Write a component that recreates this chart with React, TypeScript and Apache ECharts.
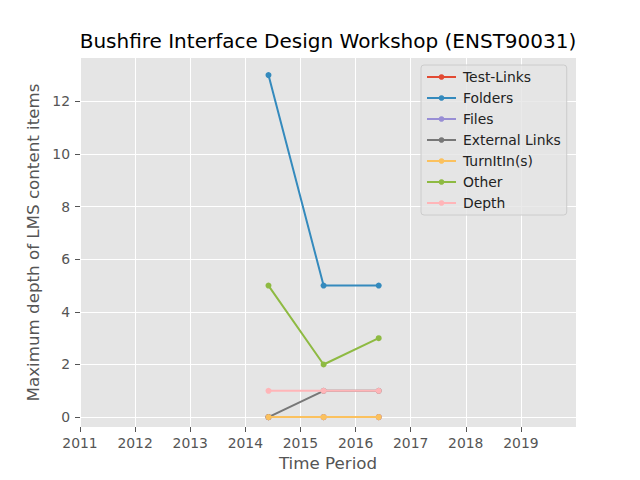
import React, { useEffect, useRef } from "react";
import * as echarts from "echarts";

const periods = [2014.42, 2015.42, 2016.42];
const seriesNames = ["Test-Links", "Folders", "Files", "External Links", "TurnItIn(s)", "Other", "Depth"];
const testLinks = [0, 0, 0];
const folders = [13, 5, 5];
const files = [0, 0, 0];
const externalLinks = [0, 1, 1];
const turnItIn = [0, 0, 0];
const other = [5, 2, 3];
const depth = [1, 1, 1];
const xTicks = [2011, 2012, 2013, 2014, 2015, 2016, 2017, 2018, 2019];
const yTicks = [0, 2, 4, 6, 8, 10, 12];

const colors = ["#E24A33", "#348ABD", "#988ED5", "#777777", "#FBC15E", "#8EBA42", "#FFB5B8"];
const values = [testLinks, folders, files, externalLinks, turnItIn, other, depth];

export default function App() {
  const ref = useRef<HTMLDivElement>(null);
  useEffect(() => {
    const chart = echarts.init(ref.current!, undefined, { renderer: "svg" });
    const font = "DejaVu Sans";
    const tick = { show: true, inside: false, length: 5, lineStyle: { color: "#555555", width: 1, opacity: 1 } };
    chart.setOption({
      animation: false,
      backgroundColor: "#ffffff",
      textStyle: { fontFamily: font },
      title: {
        text: "Bushfire Interface Design Workshop (ENST90031)",
        left: 323,
        top: 26,
        textAlign: "center",
        textStyle: { fontFamily: font, fontSize: 20, fontWeight: "normal", color: "#000000" },
      },
      grid: { left: 80, right: 64, top: 58, bottom: 53, containLabel: false, backgroundColor: "#E5E5E5", show: true, borderWidth: 0 },
      legend: {
        orient: "vertical",
        left: 421,
        top: 65,
        padding: [5, 6, 5, 5],
        itemWidth: 29,
        itemHeight: 7,
        itemGap: 7,
        backgroundColor: "rgba(229,229,229,0.8)",
        borderColor: "#CCCCCC",
        borderWidth: 1,
        borderRadius: 3,
        data: seriesNames,
        textStyle: { fontFamily: font, fontSize: 13.9, color: "#222222", padding: [0, 0, 0, 2] },
      },
      xAxis: {
        type: "value",
        min: 2011,
        max: 2020,
        interval: 1,
        name: "Time Period",
        nameLocation: "middle",
        nameGap: 27,
        nameTextStyle: { fontFamily: font, fontSize: 16.7, color: "#555555" },
        axisLine: { show: true, onZero: false, lineStyle: { color: "rgba(0,0,0,0)" } },
        axisTick: { ...tick },
        axisLabel: { margin: 9, showMaxLabel: false, fontFamily: font, fontSize: 13.9, color: "#555555", formatter: (v: number) => (xTicks.includes(v) ? String(v) : "") },
        splitLine: { show: true, lineStyle: { color: "#ffffff", width: 1 } },
      },
      yAxis: {
        type: "value",
        min: -0.376,
        max: 13.65,
        name: "Maximum depth of LMS content items",
        nameLocation: "middle",
        nameGap: 29,
        nameTextStyle: { fontFamily: font, fontSize: 16.7, color: "#555555" },
        axisLine: { show: true, onZero: false, lineStyle: { color: "rgba(0,0,0,0)" } },
        axisTick: { ...tick, customValues: yTicks },
        axisLabel: { margin: 10, fontFamily: font, fontSize: 13.9, color: "#555555", customValues: yTicks, formatter: (v: number) => String(v) },
        splitLine: { show: true, lineStyle: { color: "#ffffff", width: 1 } },
      },
      series: seriesNames.map((name, i) => ({
        name,
        type: "line",
        data: periods.map((p, j) => [p, values[i][j]]),
        symbol: "circle",
        symbolSize: 6,
        showSymbol: true,
        lineStyle: { color: colors[i], width: 2 },
        itemStyle: { color: colors[i] },
        z: 2 + i,
      })),
    });
    return () => chart.dispose();
  }, []);
  return <div ref={ref} style={{ position: "fixed", left: 0, top: 0, width: 640, height: 480 }} />;
}
